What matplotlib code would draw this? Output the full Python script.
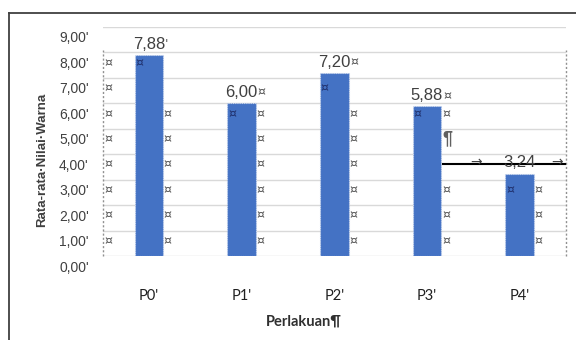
import numpy as np
import matplotlib
matplotlib.use("Agg")
import matplotlib.pyplot as plt
import matplotlib.transforms as mtransforms
from matplotlib.lines import Line2D

categories = ["P0", "P1", "P2", "P3", "P4"]
values = [7.88, 6.00, 7.20, 5.88, 3.24]
yticks = [0, 1, 2, 3, 4, 5, 6, 7, 8, 9]

# table end-of-cell marks (Word formatting marks) per column, as grid rows
marks_left_p0 = [1, 2, 3, 4, 5, 6, 7, 8]
marks_inside = [8, 6, 7, 6, 3]
marks_right = [[1, 2, 3, 4, 5, 6], [1, 2, 3, 4, 5, 6], [1, 2, 3, 4, 5, 6],
               [1, 2, 3, 6], [1, 2, 3]]
label_suffix = ["'", "\u00a4", "\u00a4", "\u00a4", ""]

plt.rcParams['font.family'] = ['Liberation Sans', 'DejaVu Sans']
MARK = ['DejaVu Sans']

fig = plt.figure(figsize=(5.76, 3.40), dpi=100)
ax = fig.add_axes([0.178, 0.247, 0.805, 0.674])

x = np.arange(len(categories))
bw = 0.31
ax.bar(x, values, width=bw, color="#4472C4", edgecolor="#c9d6ee",
       linewidth=0.8, linestyle=(0, (1, 1)), zorder=3)

ax.set_xlim(-0.5, 4.5)
ax.set_ylim(0, 9)
ax.set_yticks(yticks)
ax.set_yticklabels([f"{t:.2f}'".replace('.', ',') for t in yticks],
                   fontsize=10, color="#404040")
ax.set_xticks(x)
ax.set_xticklabels([c + "'" for c in categories], fontsize=10.5,
                   color="#202020", family=['Lato', 'DejaVu Sans'])
ax.tick_params(axis='both', length=0)
ax.tick_params(axis='x', pad=24)
ax.tick_params(axis='y', pad=10)
for s in ax.spines.values():
    s.set_visible(False)
ax.grid(axis='y', color="#d9d9d9", linewidth=1, zorder=0)
ax.set_axisbelow(True)

# labels in the screenshot sit lower than their grid lines
off = mtransforms.ScaledTranslation(0, -0.10, fig.dpi_scale_trans)
for lab in ax.get_yticklabels():
    lab.set_transform(lab.get_transform() + off)
row = ax.transData + off

# table borders (dotted)
for xv in [-0.5, 4.5]:
    ax.plot([xv, xv], [0, 8.1], color="#909090", lw=1.0,
            linestyle=(0, (1.5, 1.5)), zorder=1, clip_on=False)

mk = dict(fontsize=9, va='center', ha='left', zorder=4, family=MARK)
for r in marks_left_p0:
    ax.text(-0.48, r, "\u00a4", transform=row, color="#505050", **mk)
for i in range(len(categories)):
    ax.text(i - bw / 2 + 0.01, marks_inside[i], "\u00a4", transform=row,
            color="#1f2f6b", **mk)
    for r in marks_right[i]:
        ax.text(i + bw / 2 + 0.005, r, "\u00a4", transform=row,
                color="#505050", **mk)

# data labels
for i, v in enumerate(values[:-1]):
    t = ax.text(i - bw / 2 - 0.02, v + 0.12, f"{v:.2f}".replace('.', ','),
                fontsize=12, color="#404040", ha='left', va='bottom',
                zorder=2)
    ax.annotate(label_suffix[i], xy=(1, 0.1), xycoords=t, fontsize=9,
                color="#505050", ha='left', va='bottom', family=MARK,
                zorder=2)

# the last label sits on a tab-line in the document
ax.plot([3.17, 4.49], [4, 4], color="black", lw=1.5, transform=row,
        clip_on=False, zorder=5)
ax.text(3.53, 4.08, "\u2192", transform=row, fontsize=10, color="#404040",
        ha='center', va='center', zorder=6, family=MARK)
ax.text(4.4, 4.08, "\u2192", transform=row, fontsize=10, color="#404040",
        ha='center', va='center', zorder=6, family=MARK)
ax.text(4 - bw / 2 - 0.02, 4.05, f"{values[-1]:.2f}".replace('.', ','),
        transform=row, fontsize=12, color="#404040", ha='left',
        va='center', zorder=6)
ax.text(3.16, 5, "\u00b6", transform=row, fontsize=13, fontweight='bold',
        color="#606060", ha='left', va='center', zorder=6)

fig.text(0.073, 0.53, "Rata-rata\u00b7Nilai\u00b7Warna", rotation=90,
         fontsize=9.5, fontweight='bold', color="#404040",
         ha='center', va='center')
fig.text(0.528, 0.053, "Perlakuan\u00b6", fontsize=10.5, fontweight='bold',
         color="#303030", ha='center', va='center',
         family=['Lato', 'DejaVu Sans'])

# document frame (left and top edges visible)
fx = 8.5 / 576
fy = 1 - 12.5 / 340
fig.add_artist(Line2D([fx, fx], [0, fy], transform=fig.transFigure,
                      color="#404040", lw=1.3))
fig.add_artist(Line2D([fx, 1], [fy, fy], transform=fig.transFigure,
                      color="#404040", lw=1.3))

fig.savefig("out.png", dpi=100, facecolor="white")
